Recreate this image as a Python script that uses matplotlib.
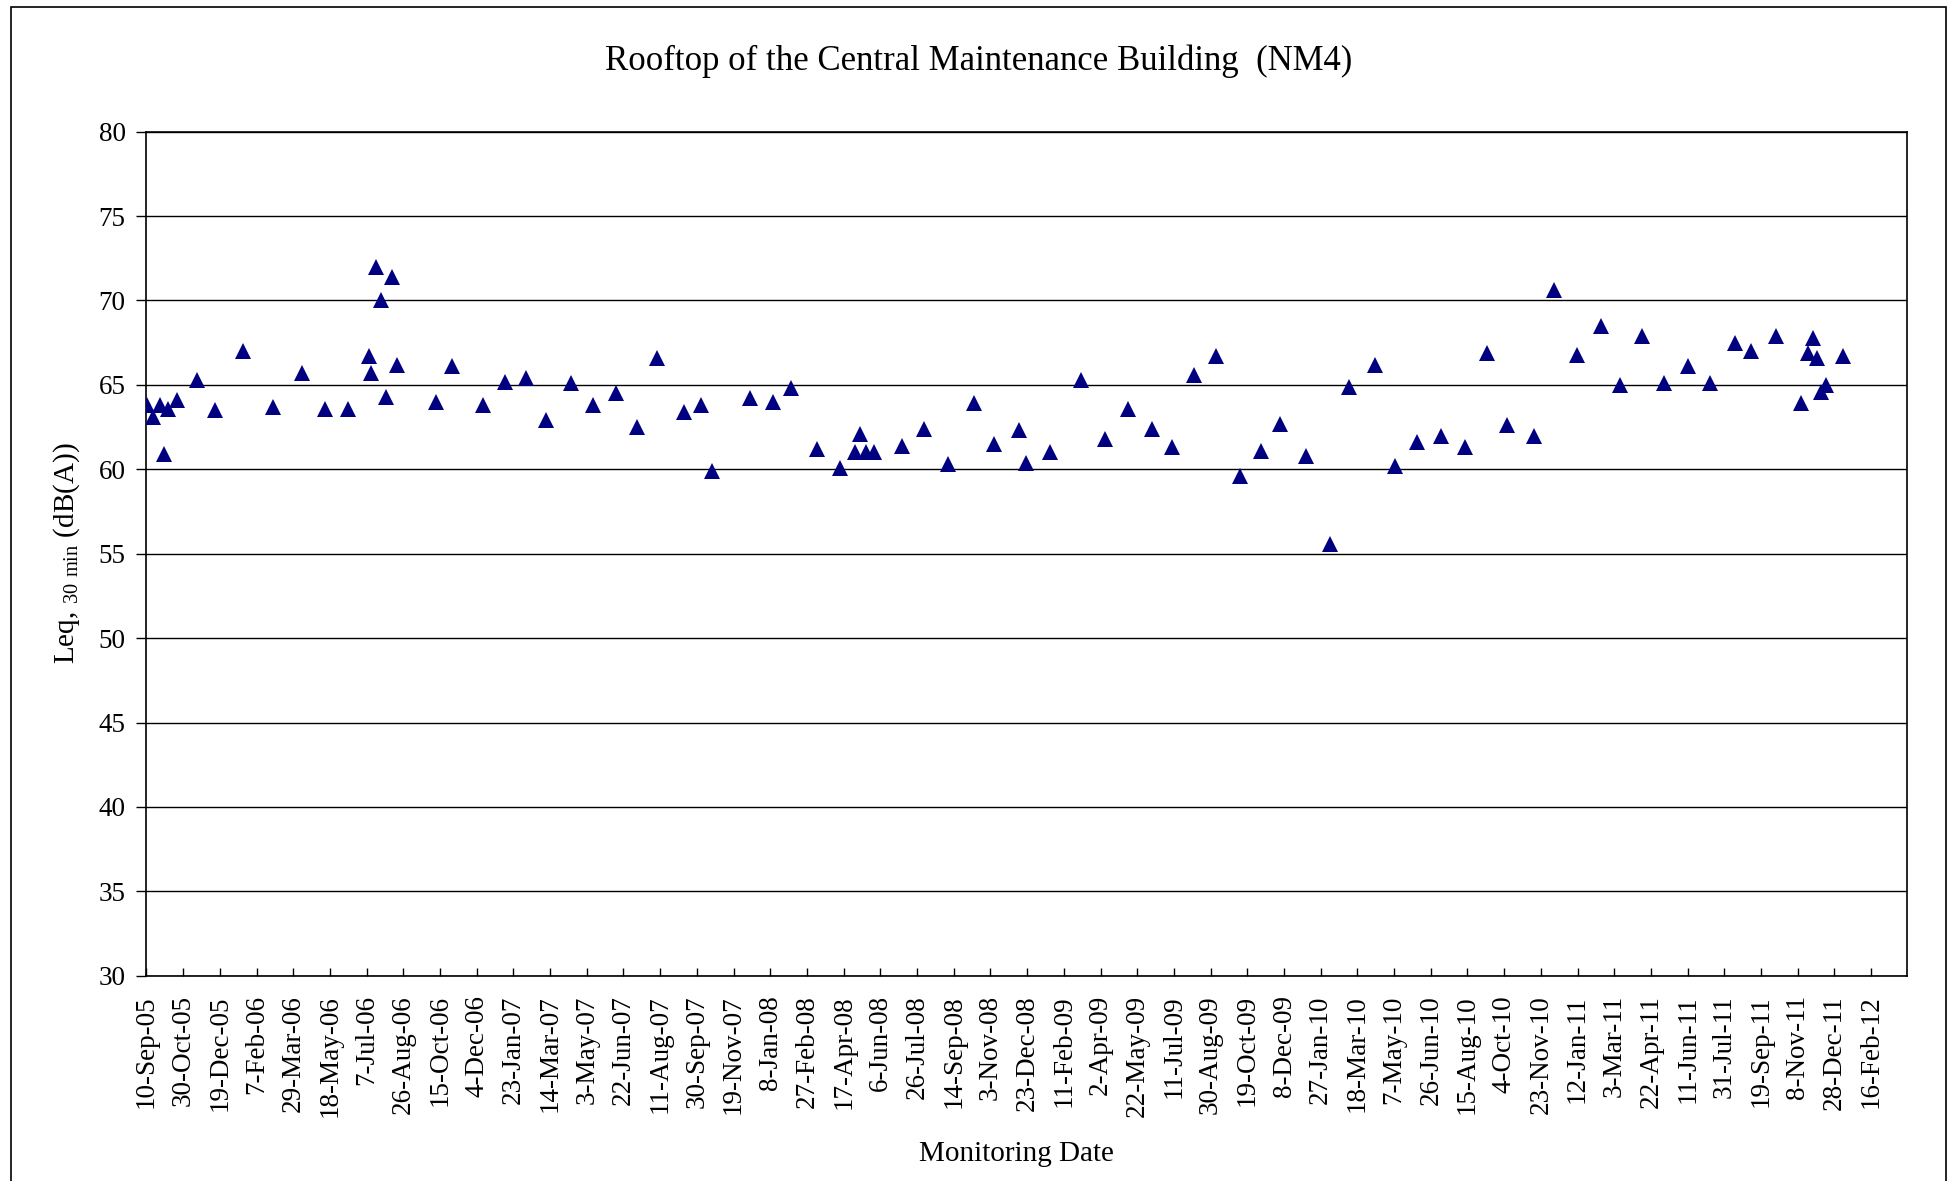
import numpy as np
import pandas as pd
import matplotlib
matplotlib.use("Agg")
from matplotlib import pyplot as plt
import matplotlib.dates as mdates
from matplotlib.ticker import FixedLocator
from matplotlib.patches import Rectangle

# monitoring dates and measured levels, dB(A)
dates = [
    "2005-09-11", "2005-09-19", "2005-09-28", "2005-10-04", "2005-10-10", "2005-10-21",
    "2005-11-18", "2005-12-13", "2006-01-19", "2006-03-02", "2006-04-10", "2006-05-11",
    "2006-06-12", "2006-07-10", "2006-07-13", "2006-07-20", "2006-07-26", "2006-08-02",
    "2006-08-10", "2006-08-17", "2006-10-09", "2006-11-01", "2006-12-12", "2007-01-11",
    "2007-02-09", "2007-03-09", "2007-04-12", "2007-05-12", "2007-06-12", "2007-07-11",
    "2007-08-07", "2007-09-12", "2007-10-05", "2007-10-21", "2007-12-12", "2008-01-12",
    "2008-02-05", "2008-03-12", "2008-04-12", "2008-05-02", "2008-05-09", "2008-05-17",
    "2008-05-29", "2008-07-05", "2008-08-05", "2008-09-06", "2008-10-11", "2008-11-08",
    "2008-12-12", "2008-12-21", "2009-01-23", "2009-03-06", "2009-04-08", "2009-05-09",
    "2009-06-11", "2009-07-08", "2009-08-07", "2009-09-06", "2009-10-09", "2009-11-06",
    "2009-12-03", "2010-01-07", "2010-02-08", "2010-03-06", "2010-04-11", "2010-05-08",
    "2010-06-07", "2010-07-10", "2010-08-12", "2010-09-10", "2010-10-08", "2010-11-13",
    "2010-12-11", "2011-01-11", "2011-02-13", "2011-03-11", "2011-04-10", "2011-05-10",
    "2011-06-11", "2011-07-11", "2011-08-14", "2011-09-05", "2011-10-10", "2011-11-12",
    "2011-11-22", "2011-11-29", "2011-12-04", "2011-12-10", "2011-12-17", "2012-01-09",
]
leq = [
    63.8, 63.1, 63.8, 60.9, 63.6, 64.1,
    65.3, 63.5, 67.0, 63.7, 65.7, 63.6,
    63.6, 66.7, 65.7, 72.0, 70.0, 64.3,
    71.4, 66.2, 64.0, 66.1, 63.8, 65.2,
    65.4, 62.9, 65.1, 63.8, 64.5, 62.5,
    66.6, 63.4, 63.8, 59.9, 64.2, 64.0,
    64.8, 61.2, 60.1, 61.0, 62.1, 61.0,
    61.0, 61.4, 62.4, 60.3, 63.9, 61.5,
    62.3, 60.4, 61.0, 65.3, 61.8, 63.6,
    62.4, 61.3, 65.6, 66.7, 59.6, 61.1,
    62.7, 60.8, 55.6, 64.9, 66.2, 60.2,
    61.6, 62.0, 61.3, 66.9, 62.6, 62.0,
    70.6, 66.8, 68.5, 65.0, 67.9, 65.1,
    66.1, 65.1, 67.5, 67.0, 67.9, 63.9,
    66.9, 67.8, 66.6, 64.6, 65.0, 66.7,
]

axis_start = "2005-09-10"
tick_dates = pd.date_range(axis_start, periods=48, freq="50D")
y_ticks = np.arange(30, 81, 5)

plt.rcParams["font.family"] = ["Liberation Serif", "DejaVu Serif"]
plt.rcParams["mathtext.fontset"] = "custom"
plt.rcParams["mathtext.rm"] = "Liberation Serif"

fig = plt.figure(figsize=(19.5, 11.81), dpi=100)
ax = fig.add_axes([0.0751, 0.1738, 0.9029, 0.7147])

ax.plot(pd.to_datetime(dates), leq, linestyle="none", marker="^",
        markersize=11, color="#000080", markeredgewidth=0, zorder=3)

x0 = pd.Timestamp(axis_start)
ax.set_xlim(x0, x0 + pd.Timedelta(days=2399))
ax.set_ylim(30, 80)

ax.xaxis.set_major_locator(FixedLocator(mdates.date2num(tick_dates)))
ax.xaxis.set_major_formatter(mdates.DateFormatter("%-d-%b-%y"))
ax.set_yticks(y_ticks)

ax.tick_params(axis="x", direction="in", length=6, width=1, labelsize=19.5,
               rotation=90, pad=14)
ax.tick_params(axis="y", direction="out", length=7, width=1, labelsize=19.5, pad=8)

ax.grid(True, axis="y", color="black", linewidth=1)
for s in ax.spines.values():
    s.set_linewidth(1.2)
    s.set_color("black")

ax.set_xlabel("Monitoring Date", fontsize=21, labelpad=17)
ax.xaxis.label.set_x(0.494)
ax.set_ylabel(r"Leq, $_{\mathrm{30\ min}}$ (dB(A))", fontsize=21, labelpad=12)
fig.text(0.502, 0.948, "Rooftop of the Central Maintenance Building  (NM4)",
         ha="center", va="center", fontsize=25)

fig.patches.append(Rectangle((11 / 1950, -0.01), (1946 - 11) / 1950, 1 - 7 / 1181 + 0.01,
                             transform=fig.transFigure, fill=False,
                             edgecolor="black", linewidth=1.2))

fig.savefig("out.png", dpi=100)
